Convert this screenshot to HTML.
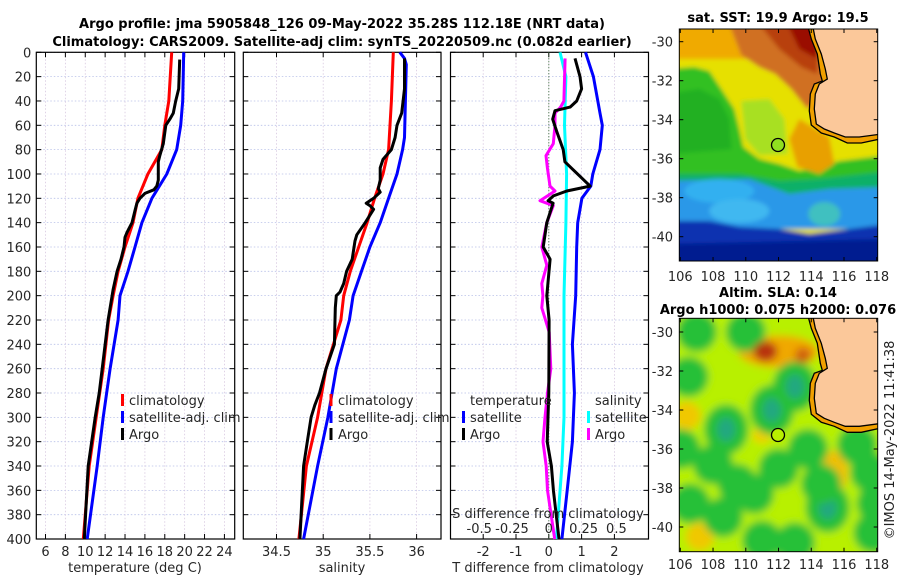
<!DOCTYPE html>
<html><head><meta charset="utf-8"><style>
body{margin:0;background:#fff;}
svg{display:block;font-family:"DejaVu Sans","Liberation Sans",sans-serif;}
</style></head><body>
<svg id="fig" width="900" height="580" viewBox="0 0 900 580" xmlns="http://www.w3.org/2000/svg">
<defs>
<filter id="blur4" x="-10%" y="-10%" width="120%" height="120%"><feGaussianBlur stdDeviation="4"/></filter>
<filter id="blur2"><feGaussianBlur stdDeviation="2"/></filter>
<clipPath id="clip1"><rect x="0" y="0" width="198.4" height="232"/></clipPath>
<clipPath id="clip2"><rect x="0" y="0" width="198.4" height="233.4"/></clipPath>
</defs>
<text x="342" y="28" text-anchor="middle" font-size="13" font-weight="bold" fill="#000">Argo profile: jma 5905848_126 09-May-2022 35.28S 112.18E (NRT data)</text>
<text x="342" y="46" text-anchor="middle" font-size="13" font-weight="bold" fill="#000">Climatology: CARS2009. Satellite-adj clim: synTS_20220509.nc (0.082d earlier)</text>
<g id="panels"></g>

<!-- Map 1: SST -->
<text x="778" y="22" text-anchor="middle" font-size="13" font-weight="bold">sat. SST: 19.9 Argo: 19.5</text>
<g transform="translate(679.3,29)">
<g clip-path="url(#clip1)">
<g filter="url(#blur2)">
<rect x="-10" y="-10" width="220" height="260" fill="#e6e000"/>
<rect x="-10" y="-10" width="220" height="40" fill="#f0aa00"/>
<polygon points="50,-5 145,-5 145,65 128,80 112,60 96,45 80,38 62,26" fill="#d07020"/>
<polygon points="80,-5 140,-5 138,45 122,38 100,20" fill="#b84010"/>
<polygon points="108,-5 140,-5 138,30 120,20" fill="#9a0a00"/>
<polygon points="-10,40 15,38 30,42 42,60 55,80 60,100 64,118 80,130 100,135 120,142 140,138 160,132 210,126 210,170 -10,170" fill="#30c020"/>
<polygon points="-10,65 20,60 40,70 50,90 52,120 -10,125" fill="#20b020"/>
<polygon points="62,72 90,70 105,90 108,125 80,126 66,110" fill="#a8e020"/>
<polygon points="120,90 150,108 155,135 140,145 118,138 110,110" fill="#e8a000"/>
<polygon points="-10,145 60,145 100,152 140,150 210,142 210,175 -10,175" fill="#10b068"/>
<polygon points="-10,152 70,150 110,165 150,160 210,158 210,200 -10,200" fill="#2a98e8"/>
<ellipse cx="40" cy="162" rx="35" ry="12" fill="#30b0f0"/>
<ellipse cx="145" cy="185" rx="16" ry="12" fill="#40c0c0"/>
<ellipse cx="60" cy="182" rx="30" ry="12" fill="#40b8f0"/>
<polygon points="-10,192 30,192 60,198 100,200 130,205 170,200 210,195 210,250 -10,250" fill="#0830b0"/>
<polygon points="-10,215 210,210 210,250 -10,250" fill="#001a90"/>
</g>
<polygon points="128,-5 132,10 138,25 141,45 143,52 135,55 131,65 130,82 132,96 142,104 155,108 168,114 182,114 210,108 210,-5" fill="#f0a000"/>
<polygon points="133,-5 136,10 142,25 146,40 148,50 140,55 136,65 135,80 137,95 145,100 155,104 166,108 180,108 210,104 210,-5" fill="#fbc89a" stroke="#000" stroke-width="1.3"/>
<polyline points="128,-5 132,10 138,25 141,45 143,52 135,55 131,65 130,82 132,96 142,104 155,108 168,114 182,114 210,108" fill="none" stroke="#000" stroke-width="1.3"/>
</g>
<rect x="0" y="0" width="198.4" height="232" fill="none" stroke="#000" stroke-width="1"/>
<circle cx="98.7" cy="116" r="6.5" fill="#90e020" stroke="#000" stroke-width="1.3"/>
</g>

<!-- Map 2: SLA -->
<text x="778" y="297" text-anchor="middle" font-size="13" font-weight="bold">Altim. SLA: 0.14</text>
<text x="778" y="314" text-anchor="middle" font-size="13" font-weight="bold">Argo h1000: 0.075 h2000: 0.076</text>
<g transform="translate(679.3,318.3)">
<g clip-path="url(#clip2)">
<g id="slablobs" filter="url(#blur4)"></g>
<polygon points="128,-5 132,10 138,25 141,45 143,52 135,55 131,65 130,82 132,96 142,104 155,108 168,114 182,114 210,108 210,-5" fill="#f0a000"/>
<polygon points="133,-5 136,10 142,25 146,40 148,50 140,55 136,65 135,80 137,95 145,100 155,104 166,108 180,108 210,104 210,-5" fill="#fbc89a" stroke="#000" stroke-width="1.3"/>
<polyline points="128,-5 132,10 138,25 141,45 143,52 135,55 131,65 130,82 132,96 142,104 155,108 168,114 182,114 210,108" fill="none" stroke="#000" stroke-width="1.3"/>
</g>
<rect x="0" y="0" width="198.4" height="233.4" fill="none" stroke="#000" stroke-width="1"/>
<circle cx="98.7" cy="116.7" r="6.5" fill="#b8f000" stroke="#000" stroke-width="1.3"/>
</g>
<g id="mapticks"></g>
<text transform="translate(894,440) rotate(-90)" text-anchor="middle" font-size="13" fill="#222">©IMOS 14-May-2022 11:41:38</text>
</svg>
<script>
// ---- data ----
const depthTicks=[0,20,40,60,80,100,120,140,160,180,200,220,240,260,280,300,320,340,360,380,400];
const tTicks=[6,8,10,12,14,16,18,20,22,24];
const sTicks=[34.5,35,35.5,36];
const dTicks=[-2,-1,0,1,2];
const dsTickLabels=["-0.5","-0.25","0","0.25","0.5"];
const dsTicks=[-0.5,-0.25,0,0.25,0.5];
const climDepth=[0,40,60,80,100,120,140,160,180,200,220,260,300,340,400];
const climTemp=[18.7,18.4,18.0,17.7,16.3,15.3,14.8,14.0,13.3,12.8,12.35,11.8,11.1,10.4,9.8];
const satDepth=[0,40,60,80,100,120,140,160,180,200,220,260,300,340,400];
const satTemp=[19.9,19.8,19.6,19.2,18.2,16.7,15.7,15.0,14.3,13.5,13.3,12.5,11.8,11.2,10.2];
const argoTDepth=[6,30,40,50,55,60,75,85,90,105,110,113,116,120,124,130,140,148,152,160,170,180,195,200,220,260,280,300,340,400];
const argoTemp=[19.5,19.4,19.1,18.86,18.5,18.1,17.85,17.5,17.35,17.35,17.2,16.9,16.0,15.5,15.2,15.0,14.7,14.2,14.0,13.9,13.6,13.2,12.8,12.7,12.3,11.7,11.4,11.0,10.3,9.9];
const climSDepth=[0,40,80,100,120,140,160,180,200,220,260,300,340,400];
const climSal=[35.75,35.73,35.70,35.64,35.55,35.47,35.38,35.29,35.22,35.19,35.03,34.94,34.82,34.74];
const satSDepth=[0,5,10,40,70,80,100,120,140,160,180,200,220,260,300,340,400];
const satSal=[35.82,35.87,35.89,35.88,35.87,35.85,35.79,35.70,35.61,35.50,35.41,35.32,35.28,35.14,35.05,34.94,34.79];
const argoSDepth=[5,30,50,60,70,80,88,95,105,112,115,120,124,126,129,140,150,155,170,180,190,197,200,210,240,260,280,290,300,320,340,400];
const argoSal=[35.87,35.87,35.84,35.79,35.77,35.73,35.64,35.61,35.61,35.59,35.61,35.54,35.46,35.50,35.54,35.45,35.36,35.34,35.31,35.25,35.22,35.18,35.14,35.13,35.12,35.03,34.96,34.91,34.87,34.83,34.79,34.75];
const dSatTDepth=[0,20,50,60,80,100,110,120,140,160,200,240,280,320,360,400];
const dSatT=[1.12,1.36,1.56,1.63,1.56,1.34,1.28,1.01,0.88,0.85,0.82,0.72,0.78,0.72,0.56,0.40];
const dArgoTDepth=[5,20,30,40,45,48,55,65,80,90,110,114,118,122,124,140,160,170,200,220,280,320,340,360,400];
const dArgoT=[0.80,0.95,1.0,0.85,0.65,0.19,0.12,0.24,0.44,0.49,1.26,0.55,0.14,-0.02,0.13,-0.06,-0.17,0.04,-0.06,0.01,0.0,-0.05,0.08,0.14,0.31];
const dSatSDepth=[0,20,60,100,140,200,240,300,340,400];
const dSatS=[0.085,0.13,0.12,0.136,0.13,0.116,0.116,0.116,0.10,0.058];
const dArgoSDepth=[5,40,45,50,60,75,85,95,110,114,122,126,140,160,175,190,200,210,230,260,280,300,320,340,360,400];
const dArgoS=[0.124,0.115,0.09,0.047,0.047,0.034,-0.021,-0.011,0.009,0.047,-0.067,0.034,-0.015,-0.053,-0.015,-0.053,-0.045,-0.053,0.003,0.015,-0.01,-0.029,-0.044,-0.02,-0.01,0.045];
const lonTicks=[106,108,110,112,114,116,118];
const latTicks=[-30,-32,-34,-36,-38,-40];
// SLA blobs: lon, lat, type
const blobLon=[106.5,110.0,108.8,111.6,113.0,106.0,112.0,113.8,106.6,108.6,115.0,117.6,111.0,117.8,109.5,114.6,107.0,110.5,116.8,113.0,108.0,118.0];
const blobLat=[-32.3,-30.0,-35.0,-34.0,-32.8,-36.0,-37.0,-36.0,-38.8,-39.5,-39.0,-37.2,-40.7,-40.3,-37.8,-37.8,-30.0,-38.3,-35.8,-40.8,-36.8,-38.8];
const blobType=[1,1,2,2,2,1,1,1,1,1,2,1,1,1,1,1,1,1,1,1,1,1];

// ---- helpers ----
const NS="http://www.w3.org/2000/svg";
const yD=d=>52.3+d*1.2168;
const xT=t=>45.5+(t-6)*9.94;
const xS=s=>276.5+(s-34.5)*93.4;
const xDT=t=>548.8+t*32.8;
const xDS=s=>548.8+s*131.2;
const Y0=52.3,Y1=539;
function mk(tag,attrs,parent){const e=document.createElementNS(NS,tag);for(const k in attrs)e.setAttribute(k,attrs[k]);(parent||document.getElementById('panels')).appendChild(e);return e;}
function line(xs,ds,xf,color,name){
  const pts=xs.map((v,i)=>xf(v).toFixed(1)+','+yD(ds[i]).toFixed(1)).join(' ');
  const p=mk('polyline',{points:pts,fill:'none',stroke:color,'stroke-width':3,'stroke-linejoin':'round'});
  
  
}
function panel(x0,x1,ticks,xf,labels,name,leftLabels){
  const g=mk('g',{});
  
  
  depthTicks.forEach(d=>{
    mk('line',{x1:x0,x2:x1,y1:yD(d),y2:yD(d),stroke:'#b8c0e8','stroke-width':0.8,'stroke-dasharray':'1.5,2'},g);
    mk('line',{x1:x0,x2:x0+5,y1:yD(d),y2:yD(d),stroke:'#000','stroke-width':1},g);
    mk('line',{x1:x1-5,x2:x1,y1:yD(d),y2:yD(d),stroke:'#000','stroke-width':1},g);
    if(leftLabels){const t=mk('text',{x:x0-5,y:yD(d)+5,'text-anchor':'end','font-size':13,fill:'#262626'},g);t.textContent=d;
      
      }
  });
  ticks.forEach((v,i)=>{
    const x=xf(v);
    mk('line',{x1:x,x2:x,y1:Y0,y2:Y1,stroke:'#d8c8e0','stroke-width':0.8,'stroke-dasharray':'1.5,2'},g);
    mk('line',{x1:x,x2:x,y1:Y1-5,y2:Y1,stroke:'#000'},g);
    mk('line',{x1:x,x2:x,y1:Y0,y2:Y0+5,stroke:'#000'},g);
    const t=mk('text',{x:x,y:556,'text-anchor':'middle','font-size':13,fill:'#262626'},g);t.textContent=labels[i];
    
    
  });
  mk('rect',{x:x0,y:Y0,width:x1-x0,height:Y1-Y0,fill:'none',stroke:'#000','stroke-width':1.2},g);
  return g;
}
function txt(x,y,s,anchor,name,size){const t=mk('text',{x:x,y:y,'text-anchor':anchor||'start','font-size':size||13,fill:'#262626'});t.textContent=s;
  
  return t;}
function legendBar(x,y,color,name){const r=mk('rect',{x:x-1.5,y:y-12,width:3,height:12,fill:color});
  
  }

// panels
panel(36.3,234.7,tTicks,xT,tTicks,'temperature-panel',true);
panel(243.3,441,sTicks,xS,sTicks,'salinity-panel',false);
panel(450.5,648.5,dTicks,xDT,dTicks,'difference-panel',false);
mk('line',{x1:xDT(0),x2:xDT(0),y1:Y0,y2:Y1,stroke:'#336633','stroke-width':1,'stroke-dasharray':'1,2'});

line(climTemp,climDepth,xT,'#ff0000','temp-climatology-line');
line(satTemp,satDepth,xT,'#0000ff','temp-satellite-line');
line(argoTemp,argoTDepth,xT,'#000000','temp-argo-line');
line(climSal,climSDepth,xS,'#ff0000','sal-climatology-line');
line(satSal,satSDepth,xS,'#0000ff','sal-satellite-line');
line(argoSal,argoSDepth,xS,'#000000','sal-argo-line');
line(dSatS,dSatSDepth,xDS,'#00ffff','dsal-satellite-line');
line(dSatT,dSatTDepth,xDT,'#0000ff','dtemp-satellite-line');
line(dArgoS,dArgoSDepth,xDS,'#ff00ff','dsal-argo-line');
line(dArgoT,dArgoTDepth,xDT,'#000000','dtemp-argo-line');

// axis titles
txt(135,572,'temperature (deg C)','middle','x-axis-title-temperature');
txt(342,572,'salinity','middle','x-axis-title-salinity');
txt(548,572,'T difference from climatology','middle','x-axis-title-tdiff');
txt(548,518,'S difference from climatology','middle','s-axis-title');
dsTicks.forEach((v,i)=>txt(xDS(v)-(v<0?4:(v>0?-2:0)),533,dsTickLabels[i],'middle','s-tick-label'));

// legends
const lg=[['#ff0000','climatology'],['#0000ff','satellite-adj. clim'],['#000000','Argo']];
lg.forEach((l,i)=>{const y=406+i*17;legendBar(122.5,y,l[0],'legend-marker-temp');txt(129,y-1,l[1],'start','legend-entry-temp');
  legendBar(331,y,l[0],'legend-marker-sal');txt(338,y-1,l[1],'start','legend-entry-sal');});
txt(470,405,'temperature','start','legend-title-temperature');
txt(595,405,'salinity','start','legend-title-salinity');
legendBar(463.5,423,'#0000ff','legend-marker-dtemp-sat');txt(470,422,'satellite','start','legend-entry-dtemp-sat');
legendBar(463.5,440,'#000000','legend-marker-dtemp-argo');txt(470,439,'Argo','start','legend-entry-dtemp-argo');
legendBar(588.5,423,'#00ffff','legend-marker-dsal-sat');txt(595,422,'satellite','start','legend-entry-dsal-sat');
legendBar(588.5,440,'#ff00ff','legend-marker-dsal-argo');txt(595,439,'Argo','start','legend-entry-dsal-argo');

// SLA blobs
const bl=document.getElementById('slablobs');
mk('rect',{x:-10,y:-10,width:220,height:260,fill:'#b8f000'},bl);
const lx=lon=>(lon-105.94)*16.37, ly=lat=>(-29.3-lat)*19.5;
[[106.4,-34.3,14,14,'#f0c800'],[115.4,-37.2,14,22,'#f0c000'],[107.2,-40.5,14,14,'#f0c800'],[112.0,-31.0,40,16,'#f0a800'],[111.0,-35.3,10,8,'#f0d000']].forEach(b=>{
  mk('ellipse',{cx:lx(b[0]),cy:ly(b[1]),rx:b[2],ry:b[3],fill:b[4]},bl);});
blobLon.forEach((lon,i)=>{
  const e=mk('ellipse',{cx:lx(lon),cy:ly(blobLat[i]),rx:blobType[i]==2?22:20,ry:blobType[i]==2?25:20,fill:'#28c038'},bl);
  
  
  if(blobType[i]==2)mk('ellipse',{cx:lx(lon),cy:ly(blobLat[i]),rx:9,ry:12,fill:'#20a880'},bl);
});
mk('ellipse',{cx:lx(111.2),cy:ly(-31.0),rx:12,ry:10,fill:'#b83010'},bl);
mk('ellipse',{cx:lx(113.5),cy:ly(-31.2),rx:8,ry:8,fill:'#d06010'},bl);

// map ticks
const mt=document.getElementById('mapticks');
[[29,261,41.7],[318.3,551.7,332]].forEach((m,k)=>{
  lonTicks.forEach(lon=>{const x=680.3+(lon-106)*16.37;
    mk('line',{x1:x,x2:x,y1:m[1]-4,y2:m[1],stroke:'#000'},mt);
    mk('line',{x1:x,x2:x,y1:m[0],y2:m[0]+4,stroke:'#000'},mt);
    const t=mk('text',{x:x,y:k?569:281,'text-anchor':'middle','font-size':13,fill:'#262626'},mt);t.textContent=lon;
    
    });
  latTicks.forEach(lat=>{const y=m[2]+(-30-lat)*19.5;
    mk('line',{x1:679.3,x2:683.3,y1:y,y2:y,stroke:'#000'},mt);
    mk('line',{x1:873.7,x2:877.7,y1:y,y2:y,stroke:'#000'},mt);
    const t=mk('text',{x:673,y:y+5,'text-anchor':'end','font-size':13,fill:'#262626'},mt);t.textContent=lat;
    
    });
});
</script>
</body></html>
